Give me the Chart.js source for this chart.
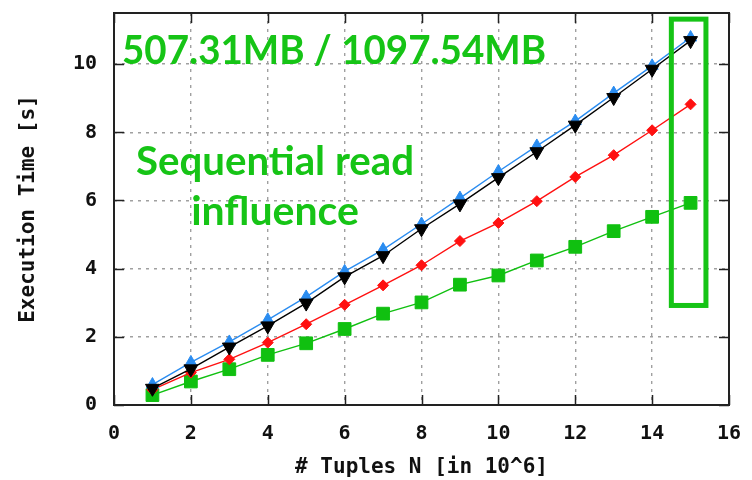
<!DOCTYPE html>
<html>
<head>
<meta charset="utf-8">
<script src="https://cdn.jsdelivr.net/npm/chart.js@4"></script>
<style>
  html, body { margin: 0; padding: 0; background: #fff; }
  #wrap { width: 752px; height: 480px; }
</style>
</head>
<body>
<div id="wrap"><canvas id="myChart" width="752" height="480"></canvas></div>
<script>
// tuples in millions
var tuples = [1, 2, 3, 4, 5, 6, 7, 8, 9, 10, 11, 12, 13, 14, 15];

// execution times in seconds
var blueTimes  = [0.60, 1.25, 1.85, 2.50, 3.17, 3.92, 4.56, 5.31, 6.07, 6.85, 7.60, 8.33, 9.15, 9.95, 10.78];
var blackTimes = [0.49, 1.06, 1.70, 2.32, 2.99, 3.76, 4.38, 5.17, 5.90, 6.67, 7.43, 8.21, 9.02, 9.85, 10.69];
var redTimes   = [0.45, 0.95, 1.34, 1.83, 2.37, 2.94, 3.51, 4.10, 4.81, 5.34, 5.98, 6.69, 7.33, 8.06, 8.82];
var greenTimes = [0.29, 0.69, 1.05, 1.47, 1.81, 2.23, 2.68, 3.01, 3.53, 3.80, 4.24, 4.64, 5.10, 5.52, 5.93];

var xTicks = [0, 2, 4, 6, 8, 10, 12, 14, 16];
var yTicks = [0, 2, 4, 6, 8, 10];

var noteSize = '507.31MB / 1097.54MB';
var noteLines = ['Sequential read', 'influence'];
var noteGreen = '#16c416';

function points(ys) {
  return tuples.map(function(x, i) { return { x: x, y: ys[i] }; });
}

function series(label, ys, color, style, radius, rotation, order) {
  return {
    label: label,
    data: points(ys),
    borderColor: color,
    backgroundColor: color,
    borderWidth: 1.4,
    pointStyle: style,
    pointRadius: radius,
    pointRotation: rotation,
    pointBorderWidth: 1,
    order: order
  };
}

var mono = "'DejaVu Sans Mono', monospace";

// border, inner ticks on all four sides and the green notes
var frame = {
  id: 'frame',
  afterDatasetsDraw: function(chart) {
    var ctx = chart.ctx;
    var a = chart.chartArea;
    var xs = chart.scales.x;
    var ys = chart.scales.y;
    var len = 10;
    ctx.save();
    ctx.strokeStyle = '#222';
    ctx.lineWidth = 1.5;
    ctx.beginPath();
    xTicks.forEach(function(v) {
      var px = Math.round(xs.getPixelForValue(v)) + 0.5;
      ctx.moveTo(px, a.bottom); ctx.lineTo(px, a.bottom - len);
      ctx.moveTo(px, a.top); ctx.lineTo(px, a.top + len);
    });
    yTicks.forEach(function(v) {
      var py = Math.round(ys.getPixelForValue(v)) + 0.5;
      ctx.moveTo(a.left, py); ctx.lineTo(a.left + len, py);
      ctx.moveTo(a.right, py); ctx.lineTo(a.right - len, py);
    });
    ctx.stroke();
    ctx.lineWidth = 2;
    ctx.strokeRect(a.left, a.top, a.right - a.left, a.bottom - a.top);

    // highlight box round the last measurement
    var bx0 = xs.getPixelForValue(14.5), bx1 = xs.getPixelForValue(15.4);
    var by0 = ys.getPixelForValue(11.32), by1 = ys.getPixelForValue(2.92);
    ctx.strokeStyle = noteGreen;
    ctx.lineWidth = 5;
    ctx.strokeRect(bx0, by0, bx1 - bx0, by1 - by0);

    ctx.fillStyle = noteGreen;
    ctx.textBaseline = 'alphabetic';
    ctx.textAlign = 'left';
    ctx.font = "bold 40px Lato, 'Open Sans', sans-serif";
    ctx.fillText(noteSize, 122, 64, 424);
    ctx.font = "bold 41px Lato, 'Open Sans', sans-serif";
    ctx.textAlign = 'center';
    ctx.fillText(noteLines[0], 275, 175, 278);
    ctx.fillText(noteLines[1], 275, 225);
    ctx.restore();
  }
};

var gridLines = {
  color: '#a0a0a0',
  lineWidth: 1.4,
  drawTicks: false
};

var ctx = document.getElementById('myChart');
var myChart = new Chart(ctx, {
  type: 'line',
  data: {
    datasets: [
      series('black', blackTimes, '#000000', 'triangle', 8, 180, 0),
      series('blue', blueTimes, '#2a8cf0', 'triangle', 7, 0, 1),
      series('red', redTimes, '#ff1010', 'rectRot', 5.5, 0, 2),
      series('green', greenTimes, '#10c010', 'rect', 9, 0, 3)
    ]
  },
  options: {
    responsive: false,
    animation: false,
    devicePixelRatio: 1,
    layout: { padding: { top: 13, right: 23, left: 0, bottom: 0 } },
    plugins: {
      legend: { display: false },
      tooltip: { enabled: false }
    },
    scales: {
      x: {
        type: 'linear',
        min: 0,
        max: 16,
        afterFit: function(scale) {
          scale.height = 75;
          scale.paddingLeft = 0;
          scale.paddingRight = 0;
        },
        afterBuildTicks: function(scale) {
          scale.ticks = xTicks.map(function(v) { return { value: v }; });
        },
        border: { display: false, dash: [3, 5] },
        grid: gridLines,
        ticks: {
          padding: 17,
          color: '#111',
          font: { family: mono, size: 20, weight: 'bold' }
        },
        title: {
          display: true,
          text: '# Tuples N [in 10^6]',
          color: '#111',
          font: { family: mono, size: 21, weight: 'bold' },
          padding: { top: 4, bottom: 0 }
        }
      },
      y: {
        min: 0,
        max: 11.5,
        afterFit: function(scale) {
          scale.width = 114;
          scale.paddingTop = 0;
          scale.paddingBottom = 0;
        },
        afterBuildTicks: function(scale) {
          scale.ticks = yTicks.map(function(v) { return { value: v }; });
        },
        border: { display: false, dash: [3, 5] },
        grid: gridLines,
        ticks: {
          padding: 17,
          color: '#111',
          font: { family: mono, size: 20, weight: 'bold' }
        },
        title: {
          display: true,
          text: 'Execution Time [s]',
          color: '#111',
          font: { family: mono, size: 21, weight: 'bold' },
          padding: { top: 16, bottom: 0 }
        }
      }
    }
  },
  plugins: [frame]
});
</script>
</body>
</html>
